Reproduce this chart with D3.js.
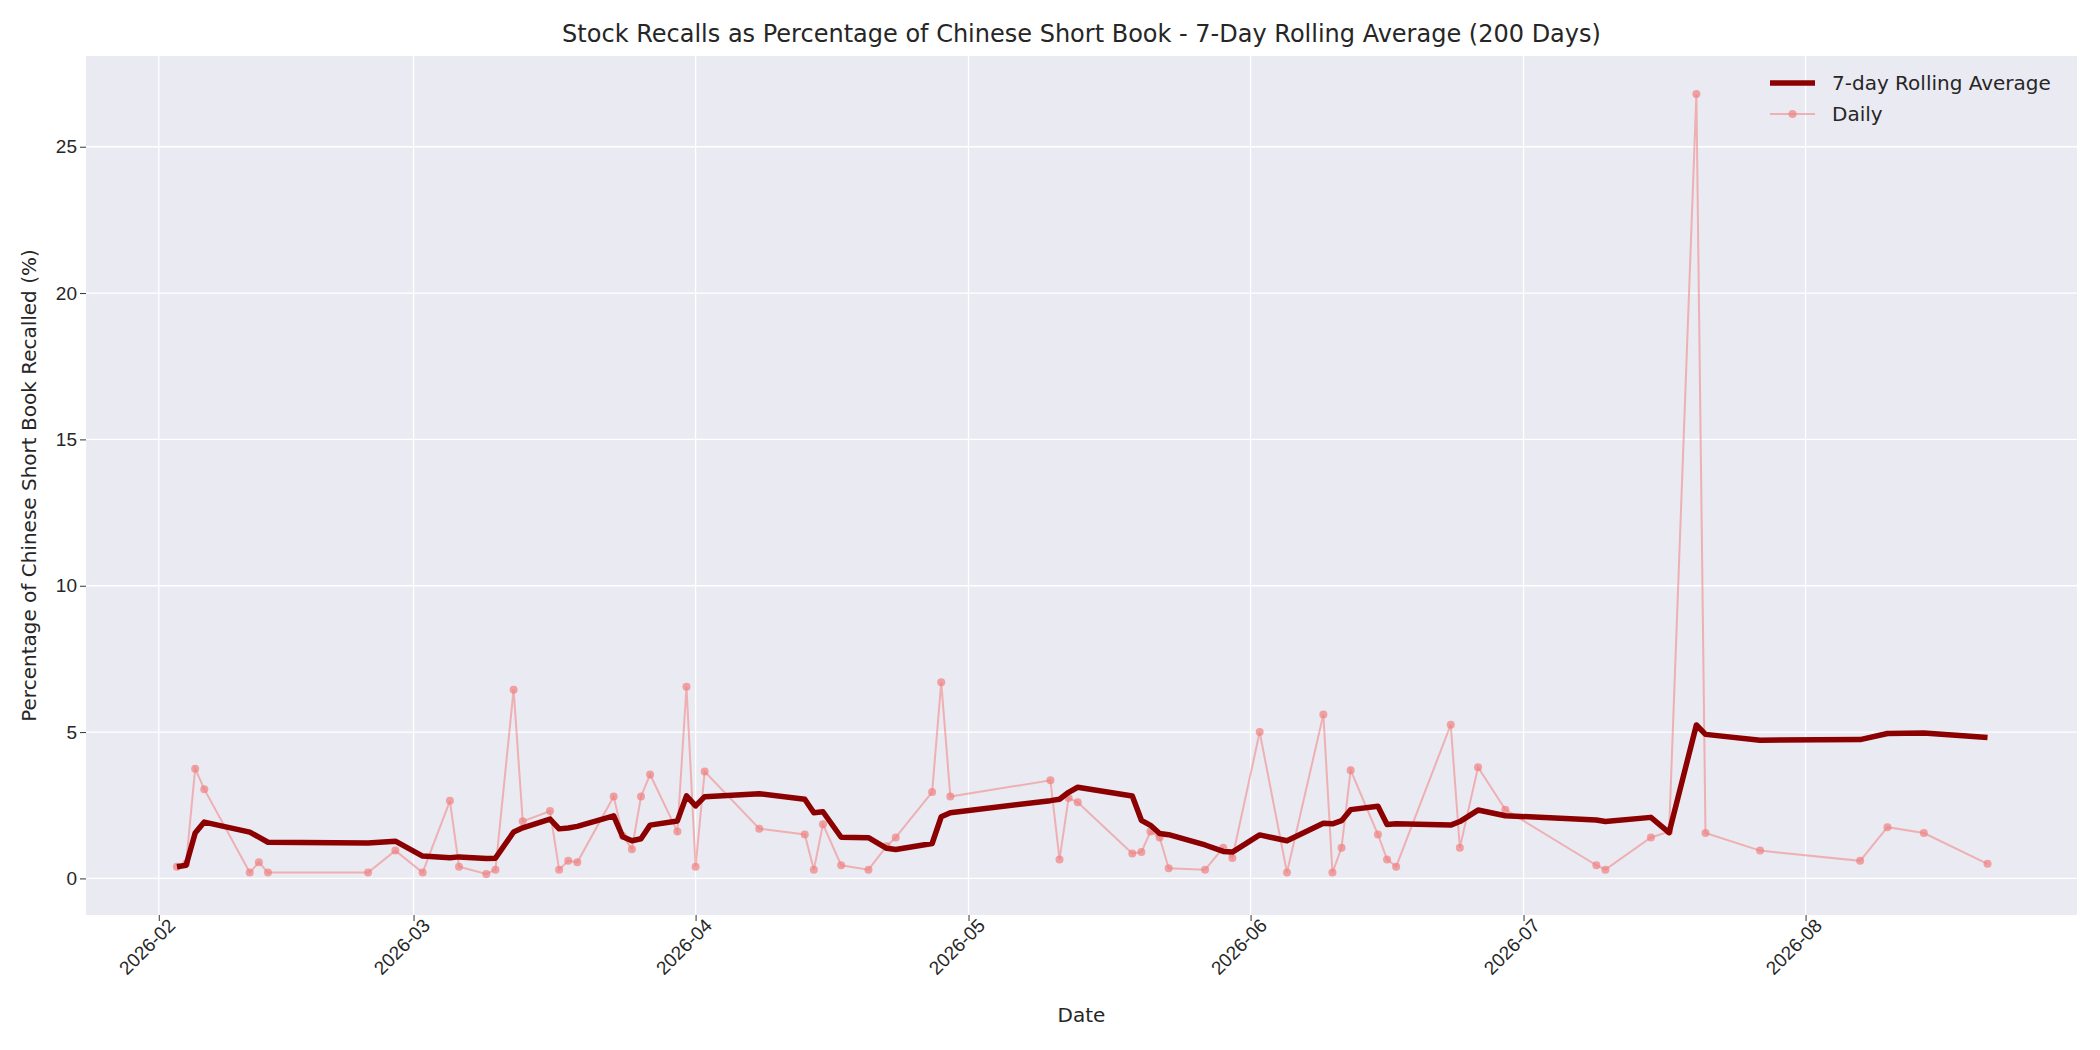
<!DOCTYPE html>
<html><head><meta charset="utf-8">
<script src="https://cdn.jsdelivr.net/npm/d3@7"></script>
<style>body{margin:0;background:#fff;font-family:"DejaVu Sans",sans-serif}</style>
</head><body><svg id="c" width="2100" height="1050"></svg>
<script>
const dates = ["2026-02-03","2026-02-04","2026-02-05","2026-02-06","2026-02-11","2026-02-12","2026-02-13","2026-02-24","2026-02-27","2026-03-02","2026-03-05","2026-03-06","2026-03-09","2026-03-10","2026-03-12","2026-03-13","2026-03-16","2026-03-17","2026-03-18","2026-03-19","2026-03-23","2026-03-24","2026-03-25","2026-03-26","2026-03-27","2026-03-30","2026-03-31","2026-04-01","2026-04-02","2026-04-08","2026-04-13","2026-04-14","2026-04-15","2026-04-17","2026-04-20","2026-04-22","2026-04-23","2026-04-27","2026-04-28","2026-04-29","2026-05-10","2026-05-11","2026-05-12","2026-05-13","2026-05-19","2026-05-20","2026-05-21","2026-05-22","2026-05-23","2026-05-27","2026-05-29","2026-05-30","2026-06-02","2026-06-05","2026-06-09","2026-06-10","2026-06-11","2026-06-12","2026-06-15","2026-06-16","2026-06-17","2026-06-23","2026-06-24","2026-06-26","2026-06-29","2026-07-09","2026-07-10","2026-07-15","2026-07-17","2026-07-20","2026-07-21","2026-07-27","2026-08-07","2026-08-10","2026-08-14","2026-08-21"];
const daily = [0.4,0.5,3.75,3.05,0.2,0.55,0.2,0.2,0.95,0.2,2.65,0.4,0.15,0.3,6.45,1.95,2.3,0.3,0.6,0.55,2.8,1.45,1.0,2.8,3.55,1.6,6.55,0.4,3.65,1.7,1.5,0.3,1.85,0.45,0.3,1.1,1.4,2.95,6.7,2.8,3.35,0.65,2.75,2.6,0.85,0.9,1.6,1.4,0.35,0.3,1.05,0.7,5.0,0.2,5.6,0.2,1.05,3.7,1.5,0.65,0.4,5.25,1.05,3.8,2.35,0.45,0.3,1.4,1.6,26.8,1.55,0.95,0.6,1.75,1.55,0.5];
const yTicks = [0,5,10,15,20,25];
const xTickLabels = ["2026-02","2026-03","2026-04","2026-05","2026-06","2026-07","2026-08"];
const WINDOW = 7;

const parse = d3.timeParse("%Y-%m-%d");
const pts = dates.map((d,i)=>({date:parse(d), v:daily[i]}));
const roll = pts.map((p,i)=>{const s=daily.slice(Math.max(0,i-WINDOW+1),i+1);return {date:p.date,v:d3.mean(s)};});

const svg = d3.select("#c");
const L=86,R=2077,T=56,B=915;
svg.append("rect").attr("x",L).attr("y",T).attr("width",R-L).attr("height",B-T).attr("fill","#eaeaf2");
const x = d3.scaleTime().domain([parse("2026-01-24"),new Date(2026,7,30,20)]).range([L,R]);
const y = d3.scaleLinear().domain([-1.25,28.1]).range([B,T]);
const xt = xTickLabels.map(s=>parse(s+"-01"));

svg.append("g").selectAll("line").data(xt).join("line").attr("x1",d=>x(d)).attr("x2",d=>x(d)).attr("y1",T).attr("y2",B).attr("stroke","#fff").attr("stroke-width",1.3);
svg.append("g").selectAll("line").data(yTicks).join("line").attr("x1",L).attr("x2",R).attr("y1",d=>y(d)).attr("y2",d=>y(d)).attr("stroke","#fff").attr("stroke-width",1.3);

const gx = svg.append("g").attr("transform",`translate(0,${B})`).call(d3.axisBottom(x).tickValues(xt).tickFormat(d3.timeFormat("%Y-%m")).tickSize(6));
gx.select(".domain").remove();
gx.selectAll("line").attr("stroke","#333");
gx.selectAll("text").attr("font-size",19).attr("fill","#262626").attr("text-anchor","end").attr("dx","0.2em").attr("dy","0.6em").attr("transform","rotate(-45)");
const gy = svg.append("g").attr("transform",`translate(${L},0)`).call(d3.axisLeft(y).tickValues(yTicks).tickSize(6));
gy.select(".domain").remove();
gy.selectAll("line").attr("stroke","#333");
gy.selectAll("text").attr("font-size",19).attr("fill","#262626");

svg.append("text").attr("x",(L+R)/2).attr("y",42).attr("text-anchor","middle").attr("font-size",24).attr("fill","#262626").text("Stock Recalls as Percentage of Chinese Short Book - 7-Day Rolling Average (200 Days)");
svg.append("text").attr("x",(L+R)/2).attr("y",1022).attr("text-anchor","middle").attr("font-size",20).attr("fill","#262626").text("Date");
svg.append("text").attr("transform",`translate(36,${(T+B)/2}) rotate(-90)`).attr("text-anchor","middle").attr("font-size",20).attr("fill","#262626").text("Percentage of Chinese Short Book Recalled (%)");

const line = d3.line().x(d=>x(d.date)).y(d=>y(d.v));
svg.append("path").datum(pts).attr("d",line).attr("fill","none").attr("stroke","#f08080").attr("stroke-opacity",0.55).attr("stroke-width",2);
svg.append("g").selectAll("circle").data(pts).join("circle").attr("cx",d=>x(d.date)).attr("cy",d=>y(d.v)).attr("r",4).attr("fill","#f08080").attr("fill-opacity",0.7);
svg.append("path").datum(roll).attr("d",line).attr("fill","none").attr("stroke","#8b0000").attr("stroke-width",5.5).attr("stroke-linejoin","round");

const lg = svg.append("g").attr("transform","translate(1770,83)");
lg.append("line").attr("x1",0).attr("x2",45).attr("stroke","#8b0000").attr("stroke-width",5.5);
lg.append("text").attr("x",62).attr("y",7).attr("font-size",20).attr("fill","#262626").text("7-day Rolling Average");
lg.append("line").attr("x1",0).attr("x2",45).attr("y1",31).attr("y2",31).attr("stroke","#f08080").attr("stroke-opacity",0.55).attr("stroke-width",2);
lg.append("circle").attr("cx",22.5).attr("cy",31).attr("r",4).attr("fill","#f08080").attr("fill-opacity",0.7);
lg.append("text").attr("x",62).attr("y",38).attr("font-size",20).attr("fill","#262626").text("Daily");
</script></body></html>
